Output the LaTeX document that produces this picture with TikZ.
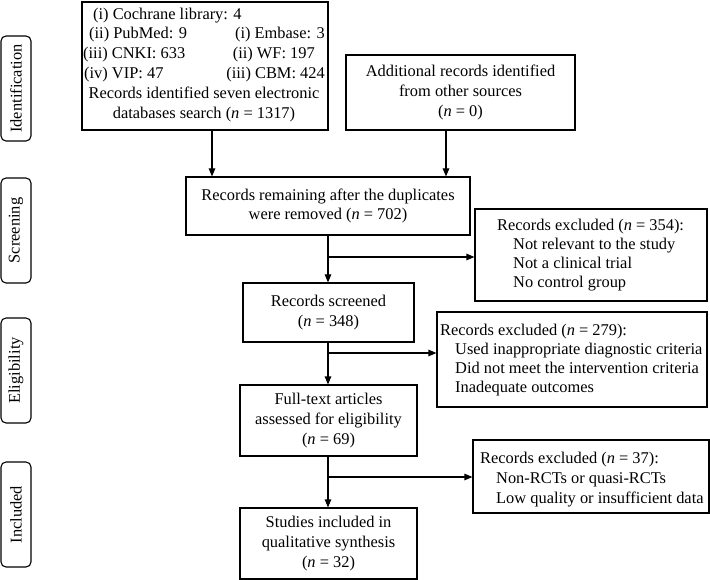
\documentclass[tikz,border=0pt]{standalone}
\usepackage{fontspec}
\setmainfont{Liberation Serif}
\usetikzlibrary{arrows.meta}
\newcommand{\nn}{\textit{n}}
\begin{document}
\begin{tikzpicture}[x=1pt,y=-1pt,
  font=\fontsize{16.4}{19.7}\selectfont,
  box/.style={draw, line width=1.1pt, inner sep=0pt, align=center},
  lab/.style={draw, line width=1.1pt, rounded corners=5pt, rotate=90,
              minimum width=105pt, minimum height=30pt, inner sep=0pt},
  arr/.style={line width=1.1pt, -{Triangle[length=8pt,width=6.5pt]}},
  txt/.style={inner sep=0pt, anchor=base west},
  rtxt/.style={inner sep=0pt, anchor=base east},
  ctxt/.style={inner sep=0pt, anchor=base}]
\useasboundingbox (0,0) rectangle (710,580);

% stage labels
\node[lab] (sid) at (16,88.5) {Identification};
\node[lab] (ssc) at (16,230.5) {Screening};
\node[lab] (sel) at (16,370.5) {Eligibility};
\node[lab] (sin) at (16,514.5) {Included};

% database box
\node[box, minimum width=246pt, minimum height=128pt] (b1) at (205,66) {};
\node[txt] (t11) at (93,19.5) {(i) Cochrane library: 4};
\node[txt] (t21) at (89,39) {(ii) PubMed: 9};
\node[rtxt] (t22) at (325,39) {(i) Embase: 3};
\node[txt] (t31) at (83,59) {(iii) CNKI: 633};
\node[rtxt] (t32) at (315,59) {(ii) WF: 197};
\node[txt] (t41) at (84,79) {(iv) VIP: 47};
\node[rtxt] (t42) at (325,79) {(iii) CBM: 424};
\node[ctxt] (t5) at (204,99) {Records identified seven electronic};
\node[ctxt] (t6) at (204,118.5) {databases search (\nn{} = 1317)};

% additional sources
\node[box, minimum width=229pt, minimum height=75pt] (b2) at (460.5,92.5)
  {Additional records identified\\from other sources\\(\nn{} = 0)};

% main column
\node[box, minimum width=284pt, minimum height=58pt] (b3) at (328,206)
  {Records remaining after the duplicates\\were removed (\nn{} = 702)};
\node[box, minimum width=171pt, minimum height=59pt] (b4) at (328.5,312.5)
  {Records screened\\(\nn{} = 348)};
\node[box, minimum width=177pt, minimum height=71pt] (b5) at (328.5,420.5)
  {Full-text articles\\assessed for eligibility\\(\nn{} = 69)};
\node[box, minimum width=177pt, minimum height=71pt] (b6) at (328.5,543.5)
  {Studies included in\\qualitative synthesis\\(\nn{} = 32)};

% exclusion boxes
\node[box, minimum width=232pt, minimum height=92pt] (e1) at (591,255) {};
\node[txt] (e1a) at (497,231) {Records excluded (\nn{} = 354):};
\node[txt] (e1b) at (513,250) {Not relevant to the study};
\node[txt] (e1c) at (513,269) {Not a clinical trial};
\node[txt] (e1d) at (513,288) {No control group};

\node[box, minimum width=270pt, minimum height=95pt] (e2) at (572,359.5) {};
\node[txt] (e2a) at (440,335) {Records excluded (\nn{} = 279):};
\node[txt] (e2b) at (455,354) {Used inappropriate diagnostic criteria};
\node[txt] (e2c) at (455,373) {Did not meet the intervention criteria};
\node[txt] (e2d) at (455,392) {Inadequate outcomes};

\node[box, minimum width=236pt, minimum height=73pt] (e3) at (591,476.5) {};
\node[txt] (e3a) at (480,463) {Records excluded (\nn{} = 37):};
\node[txt] (e3b) at (496,483) {Non-RCTs or quasi-RCTs};
\node[txt] (e3c) at (496,503) {Low quality or insufficient data};

% connectors
\draw[arr] ([xshift=7pt]b1.south) -- ([xshift=7pt]b1.south |- b3.north);
\draw[arr] ([xshift=-14.5pt]b2.south) -- ([xshift=-14.5pt]b2.south |- b3.north);
\draw[arr] (b3.south) -- (b3.south |- b4.north);
\draw[arr] (b3.south |- b4.south) -- (b3.south |- b5.north);
\draw[arr] (b3.south |- b5.south) -- (b3.south |- b6.north);

\coordinate (j1) at (328,257);
\coordinate (j2) at (328,353);
\coordinate (j3) at (328,477);
\draw[arr] (j1) -- (j1 -| e1.west);
\draw[arr] (j2) -- (j2 -| e2.west);
\draw[arr] (j3) -- (j3 -| e3.west);
\end{tikzpicture}
\end{document}
